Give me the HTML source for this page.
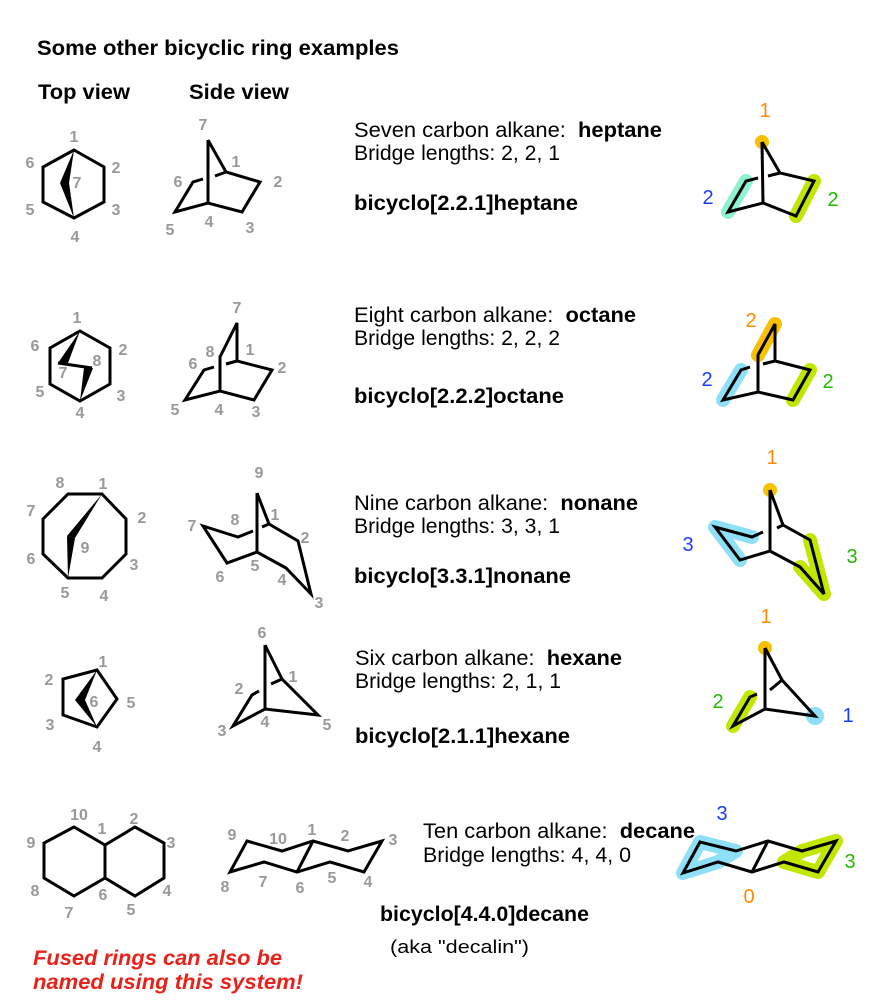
<!DOCTYPE html>
<html><head><meta charset="utf-8"><style>
body{margin:0;background:#fff}
svg{display:block}
.t{font-family:"Liberation Sans",Arial,sans-serif;font-size:21px;fill:#000;white-space:pre}
.b{font-weight:bold}
.n{font-family:"Liberation Sans",Arial,sans-serif;font-size:16px;font-weight:bold;fill:#999;text-anchor:middle}
.c{font-family:"Liberation Sans",Arial,sans-serif;font-size:20px;text-anchor:middle}
.l{fill:none;stroke:#000;stroke-width:3;stroke-linejoin:miter}
.h{fill:none;stroke-width:14;stroke-linecap:round;stroke-linejoin:round}
</style></head><body>
<svg width="878" height="1002" viewBox="0 0 878 1002" xmlns="http://www.w3.org/2000/svg">
<text x="37" y="55" class="t b" textLength="362" lengthAdjust="spacingAndGlyphs">Some other bicyclic ring examples</text>
<text x="38" y="99" class="t b" textLength="92" lengthAdjust="spacingAndGlyphs">Top view</text>
<text x="189" y="99" class="t b" textLength="100" lengthAdjust="spacingAndGlyphs">Side view</text>

<!-- heptane top -->
<polygon class="l" points="74,150 104,167 104,202 74,218 43,202 43,167"/>
<polygon points="74,150 60,183 74,218 69,183" fill="#000"/>
<g class="n"><text x="74" y="142">1</text><text x="116" y="173">2</text><text x="116" y="215">3</text><text x="75" y="242">4</text><text x="30" y="215">5</text><text x="30" y="168">6</text><text x="77" y="188">7</text></g>
<!-- heptane side -->
<polyline class="l" points="208,140 208,203"/>
<polyline class="l" points="208,140 226,172 260,182 242,212 208,203 175,212 193,182 203,179"/>
<polyline class="l" points="215,176 226,172"/>
<g class="n"><text x="203" y="130">7</text><text x="236" y="167">1</text><text x="278" y="187">2</text><text x="178" y="187">6</text><text x="170" y="235">5</text><text x="209" y="227">4</text><text x="250" y="233">3</text></g>

<!-- octane top -->
<polygon class="l" points="80,331 110,348 110,384 80,401 50,384 50,348"/>
<polygon points="80,331 58,363 68,363" fill="#000"/>
<line x1="58" y1="363" x2="92" y2="368" stroke="#000" stroke-width="3"/>
<polygon points="84,368 93,368 80,401" fill="#000"/>
<g class="n"><text x="77" y="323">1</text><text x="123" y="355">2</text><text x="121" y="401">3</text><text x="80" y="418">4</text><text x="40" y="397">5</text><text x="35" y="351">6</text><text x="63" y="378">7</text><text x="97" y="366">8</text></g>
<!-- octane side -->
<polyline class="l" points="220,391 220,357 237,323 237,361 272,370 254,400 220,391 185,400 204,370 214,367"/>
<polyline class="l" points="226,364 237,361"/>
<g class="n"><text x="237" y="313">7</text><text x="210" y="357">8</text><text x="250" y="355">1</text><text x="282" y="373">2</text><text x="193" y="369">6</text><text x="175" y="415">5</text><text x="219" y="415">4</text><text x="256" y="417">3</text></g>

<!-- nonane top -->
<polygon class="l" points="102,494 126,519 126,554 102,578 68,578 43,554 43,519 68,494"/>
<polygon points="102,494 67,536 75,538" fill="#000"/>
<polygon points="67,536 75,538 68,578" fill="#000"/>
<g class="n"><text x="103" y="489">1</text><text x="142" y="523">2</text><text x="134" y="570">3</text><text x="104" y="601">4</text><text x="65" y="598">5</text><text x="31" y="564">6</text><text x="31" y="516">7</text><text x="60" y="488">8</text><text x="85" y="553">9</text></g>
<!-- nonane side -->
<polyline class="l" points="257,493 257,552"/>
<polyline class="l" points="257,493 269,524 298,541 311,594 286,568 257,552 227,563 203,526 238,537 253,531"/>
<polyline class="l" points="262,527 269,524"/>
<g class="n"><text x="259" y="478">9</text><text x="235" y="525">8</text><text x="275" y="520">1</text><text x="305" y="543">2</text><text x="192" y="531">7</text><text x="220" y="582">6</text><text x="255" y="571">5</text><text x="282" y="585">4</text><text x="319" y="608">3</text></g>

<!-- hexane top -->
<polygon class="l" points="97,670 117,699 97,727 63,715 63,679"/>
<polygon points="97,670 75,700 85,700" fill="#000"/>
<polygon points="75,700 85,700 97,727" fill="#000"/>
<g class="n"><text x="103" y="667">1</text><text x="49" y="685">2</text><text x="50" y="730">3</text><text x="97" y="752">4</text><text x="131" y="708">5</text><text x="94" y="707">6</text></g>
<!-- hexane side -->
<polyline class="l" points="265,645 265,709"/>
<polyline class="l" points="265,645 282,679 318,715 265,709 233,726 252,695 259,691"/>
<polyline class="l" points="271,684 282,679"/>
<g class="n"><text x="262" y="638">6</text><text x="293" y="682">1</text><text x="239" y="694">2</text><text x="222" y="736">3</text><text x="265" y="727">4</text><text x="327" y="730">5</text></g>

<!-- decalin top -->
<polygon class="l" points="105,845 74,827 44,843 44,878 74,896 105,878 135,896 164,878 164,843 135,827"/>
<line class="l" x1="105" y1="845" x2="105" y2="878"/>
<g class="n"><text x="79" y="820">10</text><text x="102" y="834">1</text><text x="134" y="824">2</text><text x="171" y="848">3</text><text x="167" y="896">4</text><text x="131" y="915">5</text><text x="103" y="900">6</text><text x="69" y="918">7</text><text x="35" y="896">8</text><text x="31" y="848">9</text></g>
<!-- decalin side -->
<polygon class="l" points="247,841 282,851 313,841 348,851 382,841 364,872 330,862 297,872 264,862 230,872"/>
<line class="l" x1="313" y1="841" x2="297" y2="872"/>
<g class="n"><text x="232" y="840">9</text><text x="278" y="844">10</text><text x="312" y="835">1</text><text x="345" y="841">2</text><text x="393" y="845">3</text><text x="368" y="887">4</text><text x="332" y="883">5</text><text x="300" y="893">6</text><text x="263" y="887">7</text><text x="225" y="892">8</text></g>

<!-- texts -->
<text x="354" y="137" class="t" textLength="308" lengthAdjust="spacingAndGlyphs">Seven carbon alkane:  <tspan class="b">heptane</tspan></text>
<text x="354" y="160" class="t" textLength="206" lengthAdjust="spacingAndGlyphs">Bridge lengths: 2, 2, 1</text>
<text x="354" y="210" class="t b" textLength="224" lengthAdjust="spacingAndGlyphs">bicyclo[2.2.1]heptane</text>
<text x="354" y="322" class="t" textLength="282" lengthAdjust="spacingAndGlyphs">Eight carbon alkane:  <tspan class="b">octane</tspan></text>
<text x="354" y="345" class="t" textLength="206" lengthAdjust="spacingAndGlyphs">Bridge lengths: 2, 2, 2</text>
<text x="354" y="403" class="t b" textLength="210" lengthAdjust="spacingAndGlyphs">bicyclo[2.2.2]octane</text>
<text x="354" y="510" class="t" textLength="284" lengthAdjust="spacingAndGlyphs">Nine carbon alkane:  <tspan class="b">nonane</tspan></text>
<text x="354" y="533" class="t" textLength="206" lengthAdjust="spacingAndGlyphs">Bridge lengths: 3, 3, 1</text>
<text x="354" y="583" class="t b" textLength="217" lengthAdjust="spacingAndGlyphs">bicyclo[3.3.1]nonane</text>
<text x="355" y="665" class="t" textLength="267" lengthAdjust="spacingAndGlyphs">Six carbon alkane:  <tspan class="b">hexane</tspan></text>
<text x="355" y="688" class="t" textLength="206" lengthAdjust="spacingAndGlyphs">Bridge lengths: 2, 1, 1</text>
<text x="355" y="743" class="t b" textLength="215" lengthAdjust="spacingAndGlyphs">bicyclo[2.1.1]hexane</text>
<text x="423" y="838" class="t" textLength="272" lengthAdjust="spacingAndGlyphs">Ten carbon alkane:  <tspan class="b">decane</tspan></text>
<text x="423" y="862" class="t" textLength="208" lengthAdjust="spacingAndGlyphs">Bridge lengths: 4, 4, 0</text>
<text x="380" y="921" class="t b" textLength="209" lengthAdjust="spacingAndGlyphs">bicyclo[4.4.0]decane</text>
<text x="390" y="953" class="t" style="font-size:18px" textLength="139" lengthAdjust="spacingAndGlyphs">(aka "decalin")</text>
<text x="33" y="965" class="t b" style="font-style:italic;fill:#e8221a" textLength="249" lengthAdjust="spacingAndGlyphs">Fused rings can also be</text>
<text x="33" y="989" class="t b" style="font-style:italic;fill:#e8221a" textLength="270" lengthAdjust="spacingAndGlyphs">named using this system!</text>

<!-- right A -->
<circle cx="762" cy="142" r="7" fill="#f7c000"/>
<polyline class="h" stroke="#8ef2d0" points="728,212 746,181"/>
<polyline class="h" stroke="#c2e600" points="814,181 796,216"/>
<polyline class="l" points="762,142 763,203"/>
<polyline class="l" points="762,142 780,173 814,181 796,216 763,203 728,212 746,181 758,178"/>
<polyline class="l" points="768,176 780,173"/>
<text x="765" y="117" class="c" fill="#ff8c00">1</text><text x="708" y="204" class="c" fill="#1a3cff">2</text><text x="833" y="206" class="c" fill="#22bb00">2</text>

<!-- right B -->
<polyline class="h" stroke="#f7c000" points="775,324 758,355"/>
<polyline class="h" stroke="#8ee0f8" points="723,400 741,370"/>
<polyline class="h" stroke="#c2e600" points="810,370 793,400"/>
<polyline class="l" points="758,392 758,355 775,324 775,361 810,370 793,400 758,392 723,400 741,370 750,367"/>
<polyline class="l" points="763,364 775,361"/>
<text x="751" y="327" class="c" fill="#ff8c00">2</text><text x="707" y="386" class="c" fill="#1a3cff">2</text><text x="828" y="388" class="c" fill="#22bb00">2</text>

<!-- right C -->
<circle cx="770" cy="490" r="7" fill="#f7c000"/>
<polyline class="h" stroke="#8ee0f8" points="740,560 715,527 752,537"/>
<polyline class="h" stroke="#c2e600" points="810,540 824,594 800,567"/>
<polyline class="l" points="770,490 770,551"/>
<polyline class="l" points="770,490 783,525 810,540 824,594 800,567 770,551 740,560 715,527 752,537 763,532"/>
<polyline class="l" points="777,528 783,525"/>
<text x="772" y="464" class="c" fill="#ff8c00">1</text><text x="688" y="551" class="c" fill="#1a3cff">3</text><text x="852" y="563" class="c" fill="#22bb00">3</text>

<!-- right D -->
<circle cx="765" cy="648" r="7" fill="#f7c000"/>
<circle cx="815" cy="716" r="9" fill="#8ee0f8"/>
<polyline class="h" stroke="#c2e600" points="733,726 750,697"/>
<polyline class="l" points="765,648 765,709"/>
<polyline class="l" points="765,648 782,680 815,716 765,709 733,726 750,697 757,694"/>
<polyline class="l" points="770,690 782,680"/>
<text x="766" y="623" class="c" fill="#ff8c00">1</text><text x="718" y="708" class="c" fill="#22bb00">2</text><text x="848" y="722" class="c" fill="#1a3cff">1</text>

<!-- right E -->
<polygon class="h" stroke="#8ee0f8" points="683,873 700,842 736,851 718,862"/>
<polygon class="h" stroke="#c2e600" points="802,851 836,841 818,872 784,862"/>
<polygon class="l" points="683,873 700,842 736,851 768,841 802,851 836,841 818,872 784,862 752,872 718,862"/>
<line class="l" x1="768" y1="841" x2="752" y2="872"/>
<text x="722" y="820" class="c" fill="#1a3cff">3</text><text x="850" y="868" class="c" fill="#22bb00">3</text><text x="749" y="903" class="c" fill="#ff8c00">0</text>
</svg>
</body></html>
